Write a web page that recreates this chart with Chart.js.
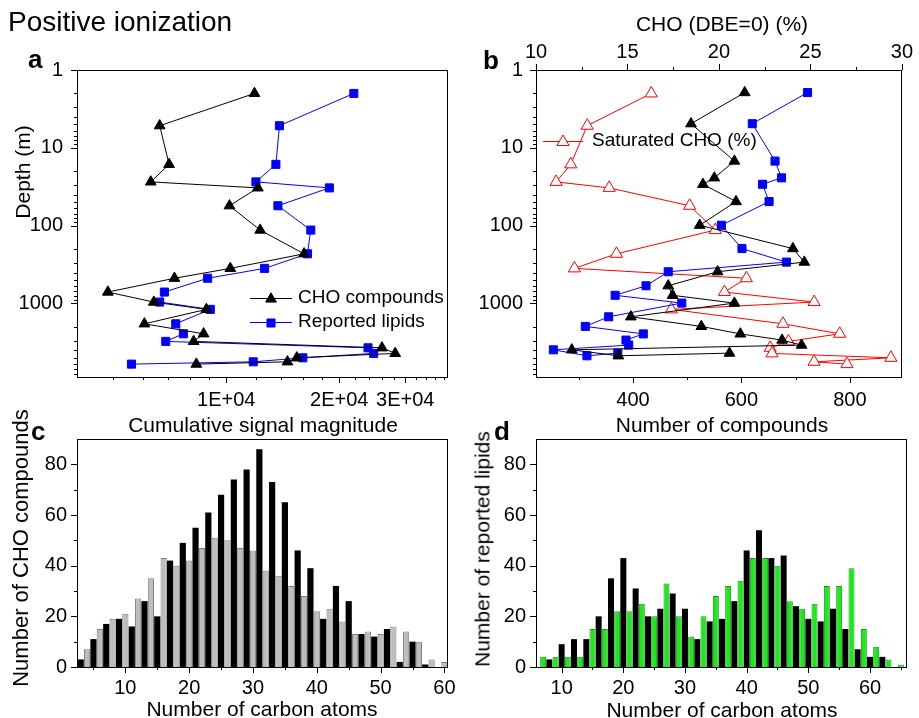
<!DOCTYPE html>
<html>
<head>
<meta charset="utf-8">
<title>Positive ionization</title>
<script src="https://cdn.jsdelivr.net/npm/chart.js@4.4.1/dist/chart.umd.min.js"></script>
<style>
  body { margin: 0; background: #fff; }
  #wrap { position: relative; width: 919px; height: 718px; overflow: hidden;
          font-family: 'Liberation Sans', Arial, sans-serif; color: #000; }
  #wrap canvas { position: absolute; left: 0; top: 0; }
  .t { position: absolute; white-space: nowrap; line-height: 1; }
  .c { transform: translate(-50%, -50%); font-size: 21px; }
  .r { transform: translate(-50%, -50%) rotate(-90deg); font-size: 21px; }
  .p { font-weight: bold; font-size: 26px; }
</style>
</head>
<body>
<div id="wrap">
  <canvas id="chart-a" width="919" height="718"></canvas>
  <canvas id="chart-b" width="919" height="718"></canvas>
  <canvas id="chart-c" width="919" height="718"></canvas>
  <canvas id="chart-d" width="919" height="718"></canvas>

  <div class="t" style="left:8px;top:8px;font-size:28px;">Positive ionization</div>
  <div class="t p" style="left:28px;top:46px;">a</div>
  <div class="t p" style="left:483px;top:47px;">b</div>
  <div class="t p" style="left:31px;top:418px;">c</div>
  <div class="t p" style="left:494px;top:418px;">d</div>

  <div class="t r" style="left:22px;top:172px;">Depth (m)</div>
  <div class="t c" style="left:263px;top:424px;">Cumulative signal magnitude</div>
  <div class="t c" style="left:722px;top:23px;">CHO (DBE=0) (%)</div>
  <div class="t c" style="left:722px;top:424px;">Number of compounds</div>
  <div class="t r" style="left:21px;top:548px;font-size:22px;">Number of CHO compounds</div>
  <div class="t c" style="left:262px;top:708px;">Number of carbon atoms</div>
  <div class="t r" style="left:482px;top:549px;">Number of reported lipids</div>
  <div class="t c" style="left:722px;top:709px;">Number of carbon atoms</div>
</div>

<script>
'use strict';

// DATA

// depth of each sample (m), panels a and b
let depth = [2, 5.2, 16.3, 27.4, 32.7, 55.5, 114, 230, 354, 474, 713, 959, 1191, 1824, 2450, 3070, 3710, 4377, 4990, 5615, 6010];
let depthB = [1.95, 4.9, 14.8, 24.3, 29.4, 49, 98.8, 197, 294, 391, 592, 785, 988, 1483, 1969, 2459, 2954, 3426, 3937, 4699, 4343];

// panel a: cumulative signal magnitude
let choSignal = [11890, 6645, 7040, 6290, 12140, 10200, 12310, 16120, 10250, 7275, 4834, 6410, 8850, 6050, 8700, 8185, 26000, 28200, 15420, 14560, 8320];
let lipidSignal = [21880, 13860, 13560, 11995, 18830, 13730, 16800, 16460, 12650, 8920, 6840, 6645, 9066, 7333, 7685, 6898, 23870, 24710, 16000, 11800, 5588];

// panel b
let satChoPct = [16.3, 12.8, 11.9, 11.1, 14.0, 18.4, 19.8, 14.4, 12.1, 21.5, 20.3, 25.2, 17.4, 23.5, 26.6, 23.8, 22.8, 22.9, 29.4, 25.2, 27.0];
let choCount = [606, 507, 587, 550, 529, 590, 523, 695, 716, 556, 465, 473, 587, 396, 526, 598, 675, 711, 287, 373, 578];
let lipidCount = [722, 620, 662, 674, 639, 651, 563, 601, 683, 465, 424, 367, 490, 355, 312, 419, 387, 392, 253, 315, 372];

// panel c: CHO compounds per carbon number (odd = black, even = grey)
let carbonOddC = [3, 5, 7, 9, 11, 13, 15, 17, 19, 21, 23, 25, 27, 29, 31, 33, 35, 37, 39, 41, 43, 45, 47, 49, 51, 53, 55, 57, 59];
let choOdd = [3, 11, 17, 19, 16, 26, 20, 42, 49, 55, 61, 68, 74, 78, 86, 73, 65, 46, 39, 19, 32, 26, 13, 12, 15, 2, 10, 1, 0];
let carbonEvenC = [4, 6, 8, 10, 12, 14, 16, 18, 20, 22, 24, 26, 28, 30, 32, 34, 36, 38, 40, 42, 44, 46, 48, 50, 52, 54, 56, 58, 60];
let choEven = [7, 15, 19, 21, 27, 35, 43, 40, 42, 47, 51, 50, 47, 46, 38, 36, 32, 28, 22, 23, 18, 13, 14, 13, 16, 14, 10, 3, 2];

// panel d: reported lipids per carbon number (odd = green, even = black)
let carbonOddD = [7, 9, 11, 13, 15, 17, 19, 21, 23, 25, 27, 29, 31, 33, 35, 37, 39, 41, 43, 45, 47, 49, 51, 53, 55, 57, 59, 61, 63, 65];
let lipidOdd = [4, 4, 4, 4, 15, 15, 22, 22, 25, 20, 33, 20, 12, 20, 28, 32, 34, 43, 43, 40, 26, 23, 25, 32, 32, 39, 15, 8, 3, 1];
let carbonEvenD = [8, 10, 12, 14, 16, 18, 20, 22, 24, 26, 28, 30, 32, 34, 36, 38, 40, 42, 44, 46, 48, 50, 52, 54, 56, 58, 60, 62, 64];
let lipidEven = [3, 9, 11, 11, 20, 35, 43, 31, 20, 23, 29, 23, 11, 18, 19, 26, 46, 54, 43, 44, 24, 19, 18, 23, 15, 7, 4, 4, 0];

// TICKS

let depthTicks = [1, 2, 3, 4, 5, 6, 7, 8, 9, 10, 20, 30, 40, 50, 60, 70, 80, 90,
  100, 200, 300, 400, 500, 600, 700, 800, 900, 1000, 2000, 3000, 4000, 5000, 6000, 7000, 8000];
let depthLabels = [1, 10, 100, 1000];
let signalTicks = [5000, 6000, 7000, 8000, 9000, 10000, 12000, 14000, 16000, 18000, 20000,
  22000, 24000, 26000, 28000, 30000, 32000, 34000, 36000, 38000];
let signalLabels = [10000, 20000, 30000];
let pctTicks = [10, 12.5, 15, 17.5, 20, 22.5, 25, 27.5, 30];
let pctLabels = [10, 15, 20, 25, 30];
let countTicks = [300, 400, 500, 600, 700, 800];
let countLabels = [400, 600, 800];
let carbonTicks = [5, 10, 15, 20, 25, 30, 35, 40, 45, 50, 55, 60, 65];
let carbonLabels = [10, 20, 30, 40, 50, 60];
let numTicks = [0, 10, 20, 30, 40, 50, 60, 70, 80];
let numLabels = [0, 20, 40, 60, 80];

// HELPERS

Chart.defaults.font.family = "'Liberation Sans', Arial, sans-serif";
Chart.defaults.font.size = 20;
Chart.defaults.color = '#000';

function toPoints(xs, ys) {
  return xs.map((x, i) => ({ x: x, y: ys[i] }));
}

function makeAxis(opts, tickList, labelList, fmt) {
  let size = opts.size;
  let horizontal = opts.position === 'top' || opts.position === 'bottom';
  return Object.assign({
    grid: { display: false, drawTicks: false },
    border: { display: false },
    afterFit(s) {
      if (horizontal) { s.height = size; } else { s.width = size; }
    },
    afterBuildTicks(s) {
      s.ticks = tickList.filter(v => v >= s.min && v <= s.max)
        .map(v => ({ value: v, lab: labelList.includes(v) }));
    },
    ticks: {
      autoSkip: false, maxRotation: 0, minRotation: 0, padding: opts.pad,
      callback: v => labelList.includes(v) ? (fmt ? fmt(v) : String(v)) : ''
    }
  }, opts.extra);
}

// box round the plot and outward tick marks
const frameTicks = {
  id: 'frameTicks',
  afterDraw(chart) {
    let ctx = chart.ctx;
    let a = chart.chartArea;
    ctx.save();
    ctx.strokeStyle = '#000';
    ctx.lineWidth = 1;
    ctx.strokeRect(Math.round(a.left) + 0.5, Math.round(a.top) + 0.5,
      Math.round(a.right - a.left) - 1, Math.round(a.bottom - a.top));
    Object.values(chart.scales).forEach(s => {
      s.ticks.forEach(t => {
        let p = Math.round(s.getPixelForValue(t.value)) + 0.5;
        let len = t.lab ? 6 : 3;
        ctx.beginPath();
        if (s.position === 'left') {
          ctx.moveTo(a.left, p); ctx.lineTo(a.left - len, p);
        } else if (s.position === 'bottom') {
          ctx.moveTo(p, a.bottom); ctx.lineTo(p, a.bottom + len);
        } else if (s.position === 'top') {
          ctx.moveTo(p, a.top); ctx.lineTo(p, a.top - len);
        }
        ctx.stroke();
      });
    });
    ctx.restore();
  }
};

function drawMarker(ctx, style, x, y, r) {
  ctx.beginPath();
  if (style === 'rect') {
    let s = r * Math.SQRT1_2;
    ctx.rect(x - s, y - s, 2 * s, 2 * s);
  } else {
    ctx.moveTo(x, y - r);
    ctx.lineTo(x + r * 0.866, y + r / 2);
    ctx.lineTo(x - r * 0.866, y + r / 2);
    ctx.closePath();
  }
  ctx.fill();
  ctx.stroke();
}

// legend drawn inside the plot, like the original
function insideLegend(items) {
  return {
    id: 'insideLegend',
    afterDraw(chart) {
      let ctx = chart.ctx;
      ctx.save();
      items.forEach(it => {
        ctx.strokeStyle = it.color;
        ctx.lineWidth = 1;
        ctx.beginPath();
        ctx.moveTo(it.x1, it.y + 0.5);
        ctx.lineTo(it.x2, it.y + 0.5);
        ctx.stroke();
        ctx.fillStyle = it.fill;
        drawMarker(ctx, it.style, (it.x1 + it.x2) / 2, it.y + 1, it.r);
        ctx.fillStyle = '#000';
        ctx.font = "19px 'Liberation Sans', Arial, sans-serif";
        ctx.textBaseline = 'middle';
        ctx.fillText(it.text, it.tx, it.y);
      });
      ctx.restore();
    }
  };
}

let baseOptions = {
  responsive: false,
  animation: false,
  devicePixelRatio: 1,
  plugins: { legend: { display: false }, tooltip: { enabled: false } }
};

// PANEL A

new Chart(document.getElementById('chart-a'), {
  type: 'scatter',
  data: {
    datasets: [{
      data: toPoints(lipidSignal, depth),
      showLine: true,
      borderColor: '#0000ff',
      backgroundColor: '#0000ff',
      borderWidth: 1,
      pointStyle: 'rect',
      pointRadius: 5.7,
      order: 2
    }, {
      data: toPoints(choSignal, depth),
      showLine: true,
      borderColor: '#000',
      backgroundColor: '#000',
      borderWidth: 1,
      pointStyle: 'triangle',
      pointRadius: 6.2,
      order: 1
    }]
  },
  options: Object.assign({}, baseOptions, {
    layout: { padding: { left: 17, top: 70, right: 471, bottom: 301 }, autoPadding: false },
    scales: {
      x: makeAxis({ position: 'bottom', size: 40, pad: 11,
        extra: { type: 'logarithmic', position: 'bottom', min: 4000, max: 39000 } },
        signalTicks, signalLabels, v => (v / 10000) + 'E+04'),
      y: makeAxis({ position: 'left', size: 60, pad: 14,
        extra: { type: 'logarithmic', position: 'left', min: 1, max: 8800, reverse: true } },
        depthTicks, depthLabels)
    }
  }),
  plugins: [frameTicks, insideLegend([
    { x1: 250, x2: 292, y: 298, color: '#000', fill: '#000', style: 'triangle', r: 6.2, text: 'CHO compounds', tx: 298 },
    { x1: 250, x2: 292, y: 322, color: '#0000ff', fill: '#0000ff', style: 'rect', r: 5.7, text: 'Reported lipids', tx: 298 }
  ])]
});

// PANEL B

new Chart(document.getElementById('chart-b'), {
  type: 'scatter',
  data: {
    datasets: [{
      data: toPoints(satChoPct, depth),
      xAxisID: 'xTop',
      showLine: true,
      borderColor: '#ff0000',
      backgroundColor: '#ffffff',
      borderWidth: 1,
      pointStyle: 'triangle',
      pointRadius: 7,
      order: 3
    }, {
      data: toPoints(lipidCount, depthB),
      xAxisID: 'x',
      showLine: true,
      borderColor: '#0000ff',
      backgroundColor: '#0000ff',
      borderWidth: 1,
      pointStyle: 'rect',
      pointRadius: 5.7,
      order: 2
    }, {
      data: toPoints(choCount, depthB),
      xAxisID: 'x',
      showLine: true,
      borderColor: '#000',
      backgroundColor: '#000',
      borderWidth: 1,
      pointStyle: 'triangle',
      pointRadius: 6.2,
      order: 1
    }]
  },
  options: Object.assign({}, baseOptions, {
    layout: { padding: { left: 476, top: 30, right: 12, bottom: 301 }, autoPadding: false },
    scales: {
      x: makeAxis({ position: 'bottom', size: 40, pad: 11,
        extra: { type: 'linear', position: 'bottom', min: 221, max: 896 } },
        countTicks, countLabels),
      xTop: makeAxis({ position: 'top', size: 40, pad: 6,
        extra: { type: 'linear', position: 'top', min: 10, max: 30 } },
        pctTicks, pctLabels),
      y: makeAxis({ position: 'left', size: 60, pad: 13,
        extra: { type: 'logarithmic', position: 'left', min: 1, max: 8800, reverse: true } },
        depthTicks, depthLabels)
    }
  }),
  plugins: [frameTicks, insideLegend([
    { x1: 543, x2: 583, y: 141, color: '#ff0000', fill: '#ffffff', style: 'triangle', r: 7, text: 'Saturated CHO (%)', tx: 592 }
  ])]
});

// PANELS C AND D

function barChart(id, pad, xMin, xMax, sets) {
  return new Chart(document.getElementById(id), {
    type: 'bar',
    data: {
      datasets: sets.map(s => ({
        data: toPoints(s.x, s.y),
        backgroundColor: s.fill,
        borderColor: s.edge,
        borderWidth: s.edge ? 1 : 0,
        grouped: false,
        barPercentage: 1,
        categoryPercentage: 0.97
      }))
    },
    options: Object.assign({}, baseOptions, {
      layout: { padding: pad, autoPadding: false },
      scales: {
        x: makeAxis({ position: 'bottom', size: 40, pad: 9,
          extra: { type: 'linear', position: 'bottom', min: xMin, max: xMax, offset: false } },
          carbonTicks, carbonLabels),
        y: makeAxis({ position: 'left', size: 60, pad: 10,
          extra: { type: 'linear', position: 'left', min: 0, max: 90 } },
          numTicks, numLabels)
      }
    }),
    plugins: [frameTicks]
  });
}

barChart('chart-c', { left: 17, top: 439, right: 471, bottom: 11 }, 2.42, 60.56, [
  { x: carbonOddC, y: choOdd, fill: '#000000', edge: null },
  { x: carbonEvenC, y: choEven, fill: '#bdbdbd', edge: '#7f7f7f' }
]);

barChart('chart-d', { left: 476, top: 439, right: 12, bottom: 11 }, 5.84, 66.0, [
  { x: carbonOddD, y: lipidOdd, fill: '#14ee14', edge: '#2b8a2b' },
  { x: carbonEvenD, y: lipidEven, fill: '#000000', edge: null }
]);
</script>
</body>
</html>
